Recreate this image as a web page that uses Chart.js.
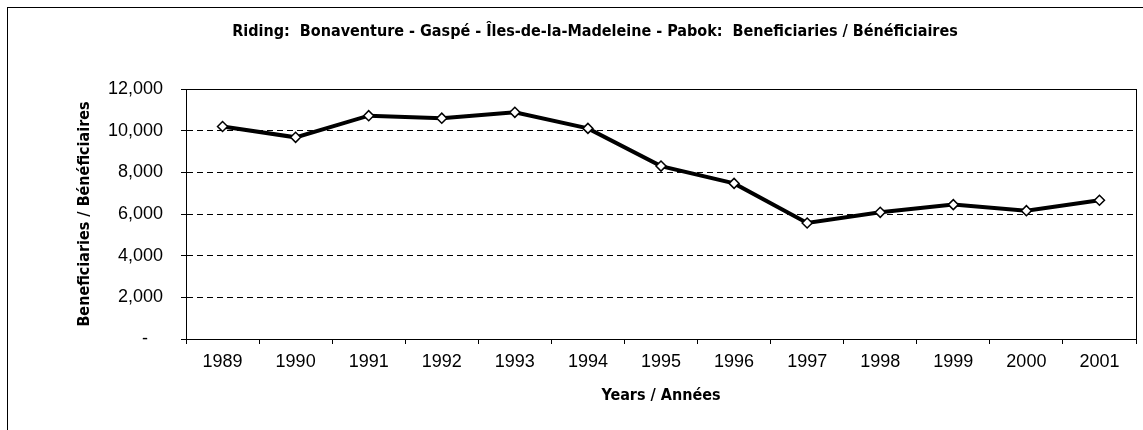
<!DOCTYPE html>
<html>
<head>
<meta charset="utf-8">
<script src="https://cdn.jsdelivr.net/npm/chart.js@4"></script>
<style>
  html, body { margin: 0; padding: 0; background: #fff; }
  canvas { display: block; }
</style>
</head>
<body>
<canvas id="ridingChart" width="1143" height="430"></canvas>
<script>
// Data
const years = ['1989', '1990', '1991', '1992', '1993', '1994', '1995', '1996', '1997', '1998', '1999', '2000', '2001'];
const beneficiaries = [10200, 9680, 10720, 10600, 10880, 10110, 8300, 7470, 5570, 6080, 6450, 6160, 6660];
const yTicks = [0, 2000, 4000, 6000, 8000, 10000, 12000];

const narrowBold = "'Liberation Sans Narrow', 'Arial Narrow', 'DejaVu Sans Condensed', sans-serif";
const plain = "'Liberation Sans', Arial, sans-serif";

// outer frame + solid plot box
const frames = {
  id: 'frames',
  beforeDraw(chart) {
    const c = chart.ctx;
    c.save();
    c.strokeStyle = '#000';
    c.lineWidth = 1;
    c.strokeRect(7.5, 7.5, 1150, 500);
    c.restore();
  },
  beforeDatasetsDraw(chart) {
    const a = chart.chartArea;
    const c = chart.ctx;
    c.save();
    c.strokeStyle = '#000';
    c.lineWidth = 1;
    c.strokeRect(Math.round(a.left) + 0.5, Math.round(a.top) + 0.5, Math.round(a.right - a.left), Math.round(a.bottom - a.top));
    c.restore();
  }
};

const ctx = document.getElementById('ridingChart').getContext('2d');
new Chart(ctx, {
  type: 'line',
  data: {
    labels: years,
    datasets: [{
      label: 'Beneficiaries / Bénéficiaires',
      data: beneficiaries,
      borderColor: '#000',
      borderWidth: 4,
      tension: 0,
      pointStyle: 'rectRot',
      pointRadius: 5,
      pointBackgroundColor: '#fff',
      pointBorderColor: '#000',
      pointBorderWidth: 1.5
    }]
  },
  options: {
    responsive: false,
    animation: false,
    layout: { padding: { top: 10, left: 54, right: 7, bottom: 0 } },
    plugins: {
      legend: { display: false },
      tooltip: { enabled: false },
      title: {
        display: true,
        text: 'Riding:  Bonaventure - Gaspé - Îles-de-la-Madeleine - Pabok:  Beneficiaries / Bénéficiaires',
        color: '#000',
        font: { family: narrowBold, size: 16, weight: 'bold' },
        padding: { top: 12.4, bottom: 47.4 }
      }
    },
    scales: {
      x: {
        offset: true,
        grid: { offset: true, drawOnChartArea: false, drawTicks: true, tickLength: 5, color: '#000' },
        border: { display: true, color: '#000', width: 1 },
        ticks: { color: '#000', font: { family: plain, size: 18 }, padding: 7, maxRotation: 0 },
        title: {
          display: true,
          text: 'Years / Années',
          color: '#000',
          font: { family: narrowBold, size: 16, weight: 'bold' },
          padding: { top: 0, bottom: 24.4 }
        },
        afterFit(scale) { scale.height = 91; }
      },
      y: {
        min: 0,
        max: 12000,
        afterBuildTicks(scale) { scale.ticks = yTicks.map(v => ({ value: v })); },
        grid: { color: '#000', lineWidth: 1, tickLength: 5, tickColor: '#000' },
        border: { display: true, color: '#000', width: 1, dash: [6, 4] },
        ticks: {
          color: '#000',
          font: { family: plain, size: 18 },
          padding: 18,
          callback: v => v === 0 ? '-   ' : v.toLocaleString('en-US')
        },
        title: {
          display: true,
          text: 'Beneficiaries / Bénéficiaires',
          color: '#000',
          font: { family: narrowBold, size: 16, weight: 'bold' },
          padding: { top: 21.4 }
        },
        afterFit(scale) { scale.width = 132; }
      }
    }
  },
  plugins: [frames]
});
</script>
</body>
</html>
